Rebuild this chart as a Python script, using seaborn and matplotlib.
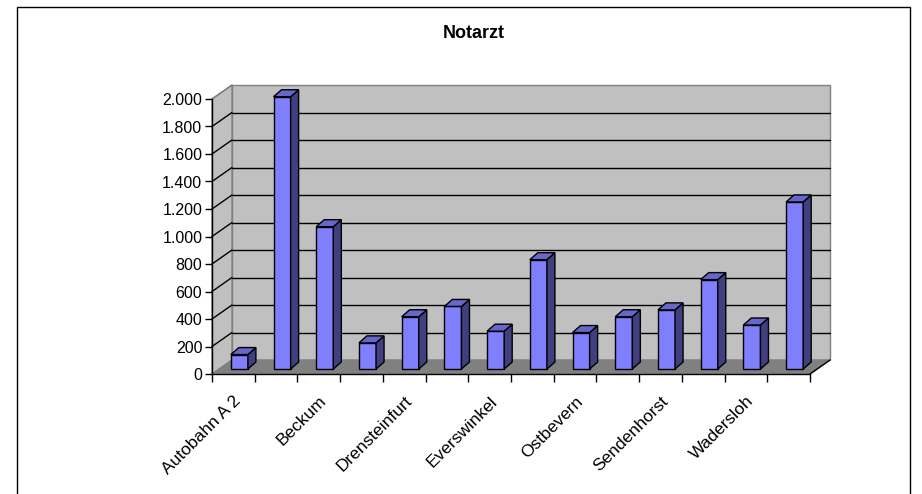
import matplotlib
matplotlib.use("Agg")
import matplotlib.pyplot as plt
import seaborn as sns
import pandas as pd
from matplotlib.patches import Polygon, Rectangle
from matplotlib.ticker import FuncFormatter, FixedLocator

# ---- data ----
categories = ["Autobahn A 2", "Ahlen", "Beckum", "Beelen", "Drensteinfurt", "Ennigerloh",
              "Everswinkel", "Oelde", "Ostbevern", "Sassenberg", "Sendenhorst", "Telgte",
              "Wadersloh", "Warendorf"]
values = [105, 1980, 1035, 190, 380, 455, 275, 795, 265, 380, 430, 650, 320, 1215]
shown_labels = ["Autobahn A 2", "", "Beckum", "", "Drensteinfurt", "", "Everswinkel", "",
                "Ostbevern", "", "Sendenhorst", "", "Wadersloh", ""]
yticks = [0, 200, 400, 600, 800, 1000, 1200, 1400, 1600, 1800, 2000]
title = "Notarzt"

df = pd.DataFrame({"Ort": categories, "Wert": values})

sns.set_style("white")
plt.rcParams["font.family"] = ["Liberation Sans", "DejaVu Sans"]
plt.rcParams["text.color"] = "black"
plt.rcParams["xtick.labelcolor"] = "black"
plt.rcParams["ytick.labelcolor"] = "black"

W, H = 922, 494
fig = plt.figure(figsize=(W / 100, H / 100), dpi=100)
ax_l, ax_r, ax_b, ax_t = 212, 810, 374, 99
ax = fig.add_axes([ax_l / W, 1 - ax_b / H, (ax_r - ax_l) / W, (ax_b - ax_t) / H])
ax.set_facecolor("none")

n = len(categories)
ymax = 2000
xpp = n / (ax_r - ax_l)          # data units per pixel (x)
ypp = ymax / (ax_b - ax_t)       # data units per pixel (y)

# wall depth
WX, WY = 20 * xpp, 14 * ypp
x0, x1 = -0.5, n - 0.5

# back wall
ax.add_patch(Polygon([(x0 + WX, WY), (x1 + WX, WY), (x1 + WX, ymax + WY), (x0 + WX, ymax + WY)],
                     closed=True, facecolor="#c0c0c0", edgecolor="#808080", lw=1, zorder=0, clip_on=False))
# left wall
ax.add_patch(Polygon([(x0, 0), (x0 + WX, WY), (x0 + WX, ymax + WY), (x0, ymax)],
                     closed=True, facecolor="#c0c0c0", edgecolor="#808080", lw=1, zorder=0, clip_on=False))
# floor
ax.add_patch(Polygon([(x0, 0), (x1, 0), (x1 + WX, WY), (x0 + WX, WY)],
                     closed=True, facecolor="#808080", edgecolor="#808080", lw=1, zorder=0.5, clip_on=False))
ax.plot([x1, x1 + WX], [0, WY], color="black", lw=1, zorder=1, clip_on=False)

# gridlines
for v in yticks[1:-1]:
    ax.plot([x0 + WX, x1 + WX], [v + WY, v + WY], color="black", lw=1, zorder=0.6, clip_on=False)
    ax.plot([x0, x0 + WX], [v, v + WY], color="black", lw=1, zorder=0.6, clip_on=False)
ax.plot([x0, x0 + WX], [ymax, ymax + WY], color="#808080", lw=1, zorder=0.6, clip_on=False)

# bars
sns.barplot(data=df, x="Ort", y="Wert", color="#8080ff", saturation=1, width=0.4,
            edgecolor="black", linewidth=1, ax=ax, zorder=2)

# bar offset within the depth and bar depth
BOX, BOY = 6 * xpp, 5 * ypp
DX, DY = 8 * xpp, 7 * ypp
bars = list(ax.patches)[3:]
for p in bars:
    bx, bw, bh = p.get_x(), p.get_width(), p.get_height()
    p.set_x(bx + BOX)
    p.set_y(BOY)
    p.set_clip_on(False)
    l, r = bx + BOX, bx + BOX + bw
    b, t = BOY, BOY + bh
    side = Polygon([(r, b), (r + DX, b + DY), (r + DX, t + DY), (r, t)], closed=True,
                   facecolor="#404080", edgecolor="black", lw=1, zorder=2, clip_on=False)
    top = Polygon([(l, t), (r, t), (r + DX, t + DY), (l + DX, t + DY)], closed=True,
                  facecolor="#6666cc", edgecolor="black", lw=1, zorder=2, clip_on=False)
    ax.add_patch(side)
    ax.add_patch(top)

ax.set_xlim(x0, x1)
ax.set_ylim(0, ymax)
ax.set_xlabel("")
ax.set_ylabel("")

# axes styling
for s in ["top", "right"]:
    ax.spines[s].set_visible(False)
for s in ["left", "bottom"]:
    ax.spines[s].set_color("black")
    ax.spines[s].set_linewidth(1)
    ax.spines[s].set_zorder(3)

ax.yaxis.set_major_locator(FixedLocator(yticks))
ax.yaxis.set_major_formatter(FuncFormatter(lambda v, _: f"{int(v):,}".replace(",", ".")))
ax.tick_params(axis="y", direction="out", length=5, width=1, color="black", labelsize=11.5,
               labelcolor="black", pad=2, left=True)

ax.set_xticks(range(n))
ax.set_xticklabels(shown_labels, rotation=45, ha="right", rotation_mode="anchor", fontsize=12.5)
ax.set_xticks([i - 0.5 for i in range(n + 1)], minor=True)
ax.tick_params(axis="x", which="major", length=0, pad=14, labelcolor="black")
ax.tick_params(axis="x", which="minor", direction="out", length=6, width=1, color="black", bottom=True)

# title and border
fig.text(474 / W, 1 - 34 / H, title, ha="center", va="center", fontsize=13, fontweight="bold",
         color="black")
fig.add_artist(Rectangle((17 / W, -0.05), (910 - 17) / W, (H - 7) / H + 0.05, transform=fig.transFigure,
                         fill=False, edgecolor="black", lw=1))

fig.savefig("out.png", dpi=100)
